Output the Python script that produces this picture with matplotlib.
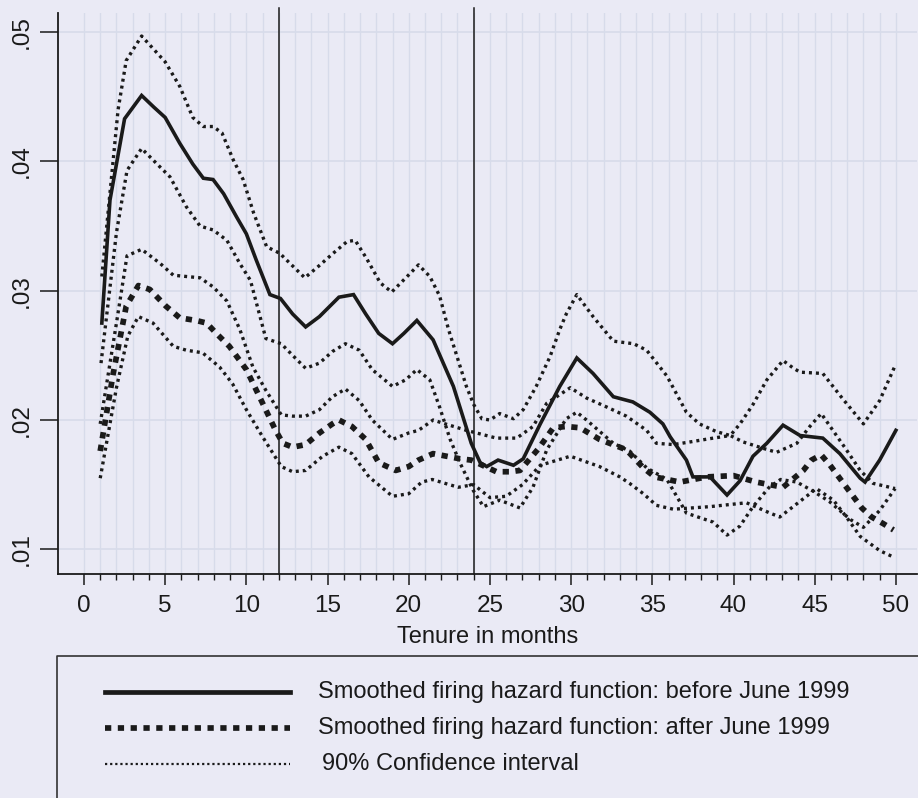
import numpy as np
import matplotlib
matplotlib.use("Agg")
import matplotlib.pyplot as plt
from matplotlib.ticker import FixedLocator

plt.rcParams['font.family'] = ['Liberation Sans', 'DejaVu Sans']

# smoothed firing hazard before June 1999 (months, hazard)
month_before = [1.1, 1.6, 2.5, 3.55, 4.3, 5.0, 5.9, 6.7, 7.35, 7.95, 8.6, 9.4, 10.0, 10.6,
                11.45, 12.1, 12.85, 13.65, 14.5, 15.7, 16.6, 17.35, 18.15, 19.0, 19.7, 20.5,
                20.9, 21.5, 22.75, 23.85, 24.4, 24.8, 25.5, 26.45, 27.05, 28.1, 29.3, 30.35,
                31.35, 32.6, 33.8, 34.85, 35.65, 36.1, 37.1, 37.5, 38.55, 39.6, 40.4, 41.2,
                42.05, 43.05, 44.1, 45.5, 46.55, 47.8, 48.1, 49.0, 50.0]
hazard_before = [0.0275, 0.0370, 0.0433, 0.0451, 0.0442, 0.0434, 0.0414, 0.0398, 0.0387,
                 0.0386, 0.0375, 0.0357, 0.0344, 0.0324, 0.0297, 0.0294, 0.0282, 0.0272,
                 0.0280, 0.0295, 0.0297, 0.0282, 0.0267, 0.0259, 0.0267, 0.0277, 0.0271,
                 0.0262, 0.0226, 0.0182, 0.0167, 0.0164, 0.0169, 0.0165, 0.0170, 0.0197,
                 0.0226, 0.0248, 0.0236, 0.0218, 0.0214, 0.0206, 0.0197, 0.0187, 0.0169,
                 0.0156, 0.0156, 0.0142, 0.0153, 0.0172, 0.0182, 0.0196, 0.0188, 0.0186,
                 0.0174, 0.0155, 0.0152, 0.0169, 0.0192]

month_before_hi = [1.1, 2.1, 2.6, 3.55, 5.0, 5.9, 6.7, 7.35, 7.95, 8.5, 9.2, 9.8, 10.45,
                   11.25, 12.05, 12.7, 13.6, 14.45, 15.35, 16.2, 16.7, 17.4, 18.25, 18.95,
                   19.9, 20.6, 21.3, 21.9, 22.45, 23.55, 24.0, 24.5, 25.0, 25.6, 26.45,
                   27.05, 27.85, 28.7, 29.3, 29.7, 30.35, 31.35, 32.6, 33.85, 34.65, 35.9,
                   37.1, 37.9, 38.95, 39.8, 40.4, 41.2, 42.05, 43.05, 43.7, 44.1, 45.5,
                   46.75, 48.0, 49.0, 49.95]
ci_before_hi = [0.0311, 0.0440, 0.0478, 0.0497, 0.0477, 0.0458, 0.0434, 0.0427, 0.0427,
                0.0422, 0.0401, 0.0386, 0.0360, 0.0334, 0.0329, 0.0321, 0.0310, 0.0319,
                0.0329, 0.0338, 0.0339, 0.0325, 0.0306, 0.0299, 0.0311, 0.0320, 0.0311,
                0.0296, 0.0270, 0.0226, 0.0212, 0.0201, 0.0200, 0.0205, 0.0201, 0.0208,
                0.0226, 0.0249, 0.0270, 0.0282, 0.0297, 0.0280, 0.0261, 0.0259, 0.0254,
                0.0234, 0.0206, 0.0197, 0.0191, 0.0188, 0.0197, 0.0212, 0.0231, 0.0246,
                0.0240, 0.0237, 0.0236, 0.0216, 0.0197, 0.0215, 0.0242]

month_before_lo = [1.05, 2.0, 2.65, 3.55, 4.5, 5.3, 6.3, 7.15, 7.95, 8.8, 9.6, 10.25, 10.8,
                   11.2, 12.15, 12.85, 13.65, 14.5, 15.3, 16.1, 16.95, 17.75, 19.0, 19.8,
                   20.5, 21.3, 21.9, 22.55, 23.15, 23.95, 24.6, 25.6, 26.85, 27.65, 28.5,
                   29.7, 30.35, 30.95, 32.6, 33.6, 34.65, 35.9, 37.1, 38.75, 39.6, 40.4,
                   41.2, 42.2, 42.9, 43.9, 44.9, 45.9, 47.2, 48.0, 49.0, 49.95]
ci_before_lo = [0.0244, 0.0345, 0.0393, 0.0410, 0.0398, 0.0388, 0.0365, 0.0350, 0.0347,
                0.0339, 0.0321, 0.0308, 0.0282, 0.0263, 0.0259, 0.0250, 0.0240, 0.0244,
                0.0253, 0.0259, 0.0254, 0.0239, 0.0226, 0.0231, 0.0239, 0.0231, 0.0210,
                0.0185, 0.0167, 0.0146, 0.0133, 0.0138, 0.0132, 0.0148, 0.0177, 0.0201,
                0.0206, 0.0200, 0.0182, 0.0176, 0.0163, 0.0154, 0.0128, 0.0121, 0.0111,
                0.0118, 0.0133, 0.0148, 0.0154, 0.0152, 0.0145, 0.0137, 0.0123, 0.0117,
                0.0130, 0.0147]

# smoothed firing hazard after June 1999
month_after = [1.0, 1.8, 2.6, 3.35, 4.05, 5.05, 5.9, 6.9, 7.55, 8.15, 8.95, 10.0, 11.0,
               11.8, 12.25, 12.85, 13.65, 14.5, 15.3, 15.7, 16.5, 17.35, 18.15, 19.2, 20.0,
               20.6, 21.5, 23.15, 23.85, 25.4, 26.25, 26.85, 28.0, 28.9, 29.7, 30.55,
               31.75, 33.4, 34.45, 35.15, 36.7, 38.35, 40.0, 41.4, 43.05, 44.3, 44.8,
               45.4, 45.95, 46.95, 47.9, 48.5, 49.2, 49.85]
hazard_after = [0.0176, 0.0236, 0.0288, 0.0304, 0.0301, 0.0288, 0.0279, 0.0277, 0.0275,
                0.0267, 0.0257, 0.0239, 0.0213, 0.0192, 0.0182, 0.0179, 0.0181, 0.0190,
                0.0197, 0.0200, 0.0195, 0.0185, 0.0167, 0.0161, 0.0164, 0.0169, 0.0174,
                0.0170, 0.0169, 0.0160, 0.0160, 0.0161, 0.0178, 0.0194, 0.0195, 0.0194,
                0.0185, 0.0177, 0.0163, 0.0156, 0.0152, 0.0156, 0.0157, 0.0152, 0.0148,
                0.0161, 0.0169, 0.0173, 0.0165, 0.0148, 0.0132, 0.0125, 0.0120, 0.0115]

month_after_hi = [1.0, 2.0, 2.65, 3.55, 4.7, 5.5, 6.3, 7.15, 7.95, 8.8, 9.6, 10.4, 11.2,
                  12.15, 12.85, 13.65, 14.5, 15.3, 16.1, 16.95, 17.75, 19.0, 20.0, 20.6,
                  21.5, 22.25, 23.55, 25.4, 26.65, 27.65, 28.5, 29.95, 30.95, 32.2, 33.4,
                  34.65, 35.25, 36.3, 37.3, 38.75, 39.8, 40.6, 41.85, 42.65, 43.9, 44.7,
                  45.4, 46.95, 47.8, 48.6, 49.95]
ci_after_hi = [0.0197, 0.0275, 0.0327, 0.0332, 0.0321, 0.0312, 0.0311, 0.0310, 0.0303,
               0.0292, 0.0270, 0.0241, 0.0223, 0.0204, 0.0203, 0.0203, 0.0208, 0.0218,
               0.0224, 0.0215, 0.0200, 0.0185, 0.0190, 0.0192, 0.0200, 0.0197, 0.0192,
               0.0186, 0.0186, 0.0195, 0.0213, 0.0225, 0.0217, 0.0210, 0.0203, 0.0192,
               0.0182, 0.0181, 0.0183, 0.0186, 0.0188, 0.0183, 0.0178, 0.0175, 0.0182,
               0.0195, 0.0205, 0.0177, 0.0161, 0.0151, 0.0147]

month_after_lo = [1.0, 2.0, 2.7, 3.35, 4.25, 5.5, 6.3, 7.3, 8.35, 9.15, 10.0, 11.0, 12.15,
                  12.85, 13.65, 14.7, 15.7, 16.5, 17.55, 19.0, 20.0, 20.8, 21.45, 22.5,
                  23.05, 24.0, 25.0, 26.0, 27.0, 28.1, 29.95, 31.75, 33.0, 33.6, 34.45,
                  35.25, 36.3, 38.55, 40.8, 42.25, 42.85, 44.7, 45.1, 46.15, 46.95, 47.8,
                  49.0, 49.85]
ci_after_lo = [0.0155, 0.0225, 0.0265, 0.0280, 0.0275, 0.0257, 0.0254, 0.0252, 0.0241,
               0.0228, 0.0208, 0.0187, 0.0164, 0.0160, 0.0161, 0.0172, 0.0179, 0.0174,
               0.0156, 0.0141, 0.0143, 0.0152, 0.0154, 0.0150, 0.0148, 0.0150, 0.0140,
               0.0141, 0.0150, 0.0165, 0.0172, 0.0164, 0.0156, 0.0151, 0.0143, 0.0134,
               0.0131, 0.0133, 0.0136, 0.0128, 0.0125, 0.0143, 0.0147, 0.0138, 0.0125,
               0.0110, 0.0099, 0.0094]

policy_months = [12, 24]
x_ticks = [0, 5, 10, 15, 20, 25, 30, 35, 40, 45, 50]
y_ticks = [0.01, 0.02, 0.03, 0.04, 0.05]
y_ticklabels = ['.01', '.02', '.03', '.04', '.05']
legend_labels = ["Smoothed firing hazard function: before June 1999",
                 "Smoothed firing hazard function: after June 1999",
                 "90% Confidence interval"]

bg = '#eaeaf5'
grid_col = '#d7dbea'
ink = '#1a1a1a'

solid_style = dict(color=ink, lw=2.6, linestyle='-', solid_joinstyle='miter')
thick_style = dict(color=ink, lw=4.1, linestyle=(0, (1.1, 1.15)), dash_capstyle='butt')
dot_style = dict(color=ink, lw=2.4, linestyle=(0, (0.9, 1.2)), dash_capstyle='butt')

W, H = 918, 798
fig = plt.figure(figsize=(W / 100, H / 100), dpi=100, facecolor=bg)
ax = fig.add_axes([58 / W, 1 - 574 / H, (917 - 58) / W, (574 - 13) / H])
ax.set_facecolor(bg)

# confidence bands first, estimates on top
ax.plot(month_before_hi, ci_before_hi, **dot_style)
ax.plot(month_before_lo, ci_before_lo, **dot_style)
ax.plot(month_after_hi, ci_after_hi, **dot_style)
ax.plot(month_after_lo, ci_after_lo, **dot_style)
ax.plot(month_after, hazard_after, **thick_style)
ax.plot(month_before, hazard_before, **solid_style)

for m in policy_months:
    ax.axvline(m, ymin=0, ymax=1.009, color=ink, lw=1.1, clip_on=False)

ax.set_xlim(-1.6, 51.3)
ax.set_ylim(0.00809, 0.05148)

ax.set_xticks(x_ticks)
ax.xaxis.set_minor_locator(FixedLocator(range(0, 51)))
ax.set_yticks(y_ticks)
ax.set_yticklabels(y_ticklabels, rotation=90, va='center')

ax.tick_params(axis='x', which='major', length=8, width=1.1, labelsize=17.5, pad=7, colors=ink)
ax.tick_params(axis='x', which='minor', length=4.5, width=1.0, colors=ink)
ax.tick_params(axis='y', which='major', length=13, width=1.1, labelsize=17.5, pad=5, colors=ink)

ax.grid(True, axis='x', which='both', color=grid_col, lw=1.0)
ax.grid(True, axis='y', which='major', color=grid_col, lw=1.2)
ax.set_axisbelow(True)

for s in ['top', 'right']:
    ax.spines[s].set_visible(False)
for s in ['left', 'bottom']:
    ax.spines[s].set_linewidth(1.3)
    ax.spines[s].set_color(ink)

ax.set_xlabel("Tenure in months", fontsize=17, color=ink)
ax.xaxis.set_label_coords(0.5, (574 - 637) / (574 - 13))
ax.xaxis.label.set_va('center')

# legend panel, laid out in pixel units below the plot
lax = fig.add_axes([0, 0, 1, 1 - 650 / H])
lax.set_xlim(0, W)
lax.set_ylim(H, 650)
lax.axis('off')
lax.plot([57, 57, W + 5], [H + 5, 656, 656], color='#333333', lw=1.2)

rows = [692, 728, 764]
styles = [dict(solid_style, lw=3.4), thick_style, dict(dot_style, lw=1.6, linestyle=(0, (1, 1.3)))]
text_x = [318, 318, 322]
for y, st, lab, tx in zip(rows, styles, legend_labels, text_x):
    lax.plot([105, 290], [y, y], **st)
    lax.text(tx, y, lab, fontsize=17, va='center', ha='left', color=ink)

fig.savefig("out.png", dpi=100, facecolor=bg)
